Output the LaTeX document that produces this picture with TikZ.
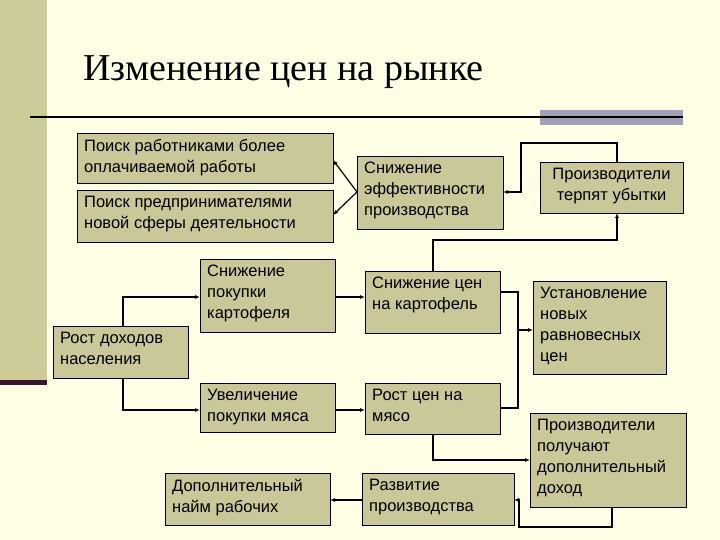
\documentclass[tikz,border=0pt]{standalone}
\usepackage{fontspec}
\setmainfont{Liberation Sans}
\newfontfamily\titlefont{Liberation Serif}
\usetikzlibrary{arrows.meta}
\definecolor{bg}{RGB}{255,255,229}
\definecolor{side}{RGB}{204,204,153}
\definecolor{boxc}{RGB}{202,200,152}
\definecolor{barc}{RGB}{160,160,185}
\definecolor{darkp}{RGB}{60,20,50}
\begin{document}
\begin{tikzpicture}[x=1pt,y=-1pt,
  bx/.style={draw=none,fill=none,inner sep=0pt,
    font=\fontsize{16.5}{21}\selectfont,align=left},
  ar/.style={line width=1.2pt,-{Latex[length=5pt,width=4pt]}},
  ln/.style={line width=1.2pt}]
\fill[bg] (0,0) rectangle (720,540);
\useasboundingbox (0,0) rectangle (720,540);
\fill[side] (0,0) rectangle (47,381);
\fill[darkp] (0,380) rectangle (47,385);
\node[anchor=west,font=\titlefont\fontsize{38}{44}\selectfont] (title) at (80,72) {Изменение цен на рынке};
\fill[barc] (540,110) rectangle (683,125);
\draw[line width=2pt] (30,117) -- (683,117);
\newcommand{\bxat}[7]{\draw[line width=0.8pt,fill=boxc] (#2,#3) rectangle (#4,#5);
  \node[bx,anchor=north west,#6] (#1) at (#2+7,#3+6) {#7};}
\bxat{A}{77}{133}{333}{183}{}{Поиск работниками более\\оплачиваемой работы}
\bxat{B}{77}{190}{333}{242}{}{Поиск предпринимателями\\новой сферы деятельности}
\bxat{C}{357}{156}{503}{229}{}{Снижение\\эффективности\\производства}
\bxat{D}{540}{162}{683}{213}{align=center,anchor=north,xshift=64.5pt}{Производители\\терпят убытки}
\bxat{E}{200}{259}{335}{332}{}{Снижение\\покупки\\картофеля}
\bxat{F}{365}{271}{500}{333}{}{Снижение цен\\на картофель}
\bxat{G}{533}{281}{666}{374}{}{Установление\\новых\\равновесных\\цен}
\bxat{H}{53}{326}{188}{378}{}{Рост доходов\\населения}
\bxat{I}{200}{383}{335}{432}{}{Увеличение\\покупки мяса}
\bxat{J}{365}{383}{500}{434}{}{Рост цен на\\мясо}
\bxat{K}{530}{413}{686}{507}{}{Производители\\получают\\дополнительный\\доход}
\bxat{L}{165}{473}{330}{525}{}{Дополнительный\\найм рабочих}
\bxat{M}{362}{473}{514}{525}{}{Развитие\\производства}
\draw[ar] (357,192) -- (333,160);
\draw[ar] (357,192) -- (333,215);
\draw[ar] (617,162) -- (617,143) -- (521,143) -- (521,192) -- (503,192);
\draw[ar] (433,271) -- (433,240) -- (617,240) -- (617,213);
\draw[ar] (123,326) -- (123,297) -- (200,297);
\draw[ar] (123,378) -- (123,410) -- (200,410);
\draw[ar] (335,297) -- (365,297);
\draw[ar] (335,410) -- (365,410);
\draw[ln] (500,292) -- (518,292) -- (518,408) -- (500,408);
\draw[ar] (518,330) -- (533,330);
\draw[ar] (433,434) -- (433,460) -- (530,460);
\draw[ar] (612,507) -- (612,527) -- (519,527) -- (519,500) -- (514,500);
\draw[ar] (362,500) -- (330,500);
\end{tikzpicture}
\end{document}
